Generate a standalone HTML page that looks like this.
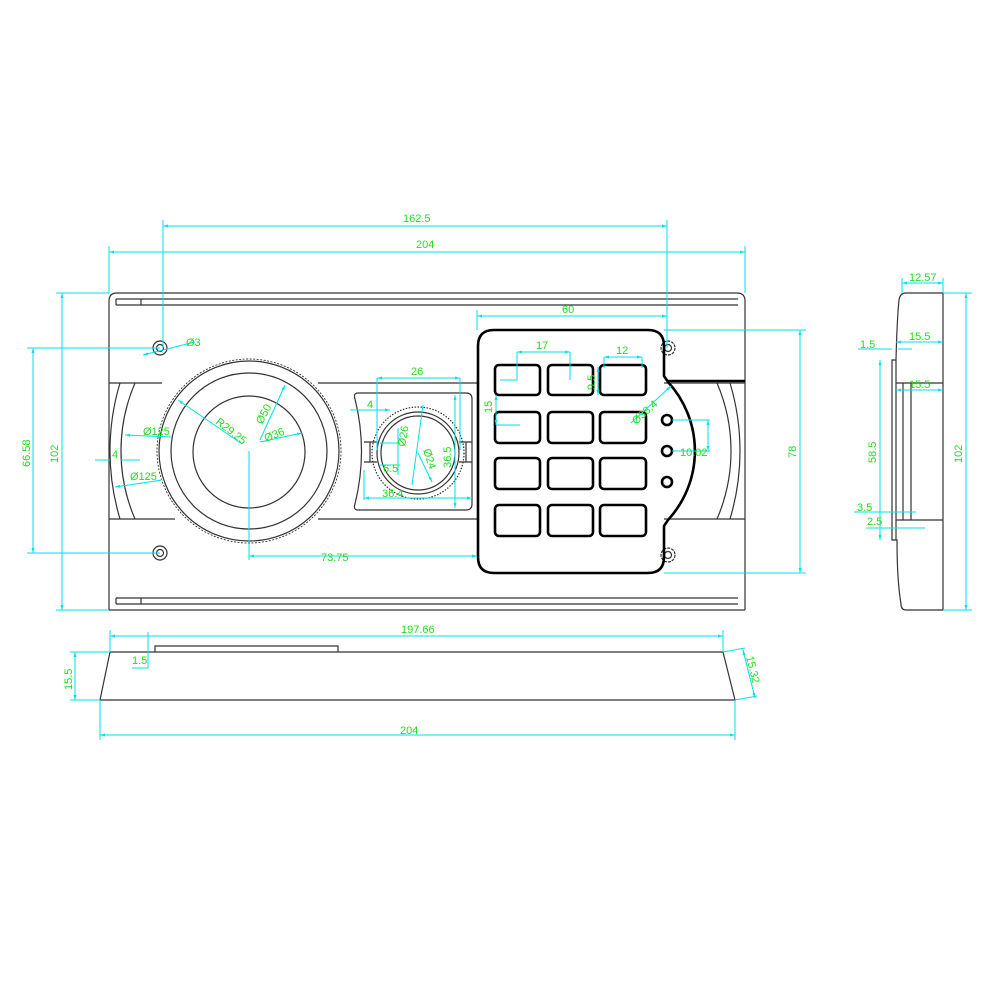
<!DOCTYPE html>
<html><head><meta charset="utf-8"><style>
html,body{margin:0;padding:0;background:#fff;}
svg{display:block}
text{font-family:"Liberation Sans",sans-serif;font-size:11px;fill:#22dd22;}
.o{fill:none;stroke:#333;stroke-width:1.2}
.k{fill:none;stroke:#000;stroke-width:2.6}
.d{fill:none;stroke:#00e0ee;stroke-width:1}
</style></head><body>
<svg width="1000" height="1000" viewBox="0 0 1000 1000" xmlns="http://www.w3.org/2000/svg">
<defs>
<marker id="a" viewBox="0 0 10 10" refX="10" refY="5" markerWidth="7" markerHeight="5" orient="auto-start-reverse"><path d="M0,2L10,5L0,8z" fill="#00e0ee"/></marker>
</defs>
<!-- MAIN BODY -->
<path class="o" d="M109,610 L109,301 Q109,293 117,293 L737,293 Q745,293 745,301 L745,610"/>
<path class="o" d="M116,299 L738,299 M116,305 L738,305 M116,299 L116,305 M141,299 L141,305"/>
<path class="o" d="M116,598 L738,598 M116,604 L738,604 M116,598 L116,604 M141,598 L141,604 M109,610 L745,610"/>
<path class="o" d="M109,383 L162,383 M318,383 L477,383 M109,519 L175,519 M318,519 L477,519"/>
<!-- left arcs -->
<path class="o" d="M120,383 A236,236 0 0 0 120,519"/>
<path class="o" d="M135,383 A172,172 0 0 0 135,519"/>
<!-- right arcs -->
<path class="o" d="M730,383 A236,236 0 0 1 730,519"/>
<path class="o" d="M717,383 A172,172 0 0 1 717,519"/>
<!-- right bands -->
<path class="o" d="M664,383 L745,383 M664,519 L745,519"/>
<path d="M668,381 L745,381" stroke="#000" stroke-width="2.5"/>
<!-- holes -->
<g class="o"><circle cx="160" cy="348" r="7"/><circle cx="160" cy="348" r="3.5"/>
<circle cx="160" cy="553" r="7"/><circle cx="160" cy="553" r="3.5"/>
<circle cx="668" cy="348" r="7" stroke-dasharray="3 1"/><circle cx="668" cy="348" r="3.5"/>
<circle cx="668" cy="555" r="7" stroke-dasharray="3 1"/><circle cx="668" cy="555" r="3.5"/></g>
<!-- dial -->
<g class="o"><circle cx="249" cy="451" r="92" stroke-dasharray="2 1.5" stroke-width="0.9"/><circle cx="249" cy="451" r="90"/><circle cx="249" cy="451" r="78"/><circle cx="249" cy="452" r="56"/></g>
<!-- window -->
<path class="o" d="M358,393 L466,393 Q472,393 472,399 L472,504 Q472,510 466,510 L358,510 Q353,510 355,504 Q368,451 355,399 Q353,393 358,393 Z"/>
<g class="o"><circle cx="418" cy="453" r="46" stroke-dasharray="1.5 1.5"/><circle cx="418" cy="453" r="41"/><circle cx="418" cy="453" r="37"/>
<path d="M364,442 L377,442 M364,462 L377,462 M370,442 L370,462 M459,442 L472,442 M459,462 L472,462 M466,442 L466,462"/></g>
<!-- keypad -->
<path class="k" d="M494,330 L648,330 Q664,330 664,346 L664,376 L668,382 A102,102 0 0 1 668,520 L664,526 L664,557 Q664,573 648,573 L494,573 Q478,573 478,557 L478,346 Q478,330 494,330 Z"/>
<g class="k">
<rect x="495" y="365" width="45" height="30" rx="4"/><rect x="548" y="365" width="45" height="30" rx="4"/><rect x="600" y="365" width="46" height="30" rx="4"/>
<rect x="495" y="412" width="45" height="31" rx="4"/><rect x="548" y="412" width="45" height="31" rx="4"/><rect x="600" y="412" width="46" height="31" rx="4"/>
<rect x="495" y="458" width="45" height="31" rx="4"/><rect x="548" y="458" width="45" height="31" rx="4"/><rect x="600" y="458" width="46" height="31" rx="4"/>
<rect x="495" y="505" width="45" height="31" rx="4"/><rect x="548" y="505" width="45" height="31" rx="4"/><rect x="600" y="505" width="46" height="31" rx="4"/>
<circle cx="667" cy="420" r="5"/><circle cx="667" cy="451" r="5"/><circle cx="667" cy="482" r="5"/></g>
<!-- SIDE VIEW -->
<path class="o" d="M943,293 L943,610 L906,610 Q901,610 901,604 Q897,580 897,540 L892,540 L892,360 L896,360 Q897,320 899,300 Q900,293 906,293 Z"/>
<path class="o" d="M896,383 L943,383 M896,520 L943,520 M903,383 L903,520 M911,383 L911,520 M896,360 L896,540"/>
<!-- BOTTOM VIEW -->
<path class="o" d="M110,652 L723,652 L735,700 L100,700 Z"/>
<path class="o" d="M155,652 L155,646 L338,646 L338,652"/>
<!-- DIMENSIONS -->
<g class="d">
<path d="M163,226 L667,226" marker-start="url(#a)" marker-end="url(#a)"/>
<path d="M163,220 L163,348 M667,220 L667,348"/>
<path d="M109,252 L745,252" marker-start="url(#a)" marker-end="url(#a)"/>
<path d="M109,246 L109,293 M745,246 L745,293"/>
<path d="M62,293 L62,610" marker-start="url(#a)" marker-end="url(#a)"/>
<path d="M56,293 L109,293 M56,610 L109,610"/>
<path d="M33,348 L33,553" marker-start="url(#a)" marker-end="url(#a)"/>
<path d="M27,348 L160,348 M27,553 L160,553"/>
<path d="M800,330 L800,573" marker-start="url(#a)" marker-end="url(#a)"/>
<path d="M664,330 L806,330 M664,573 L806,573"/>
<path d="M477,316 L667,316" marker-start="url(#a)" marker-end="url(#a)"/>
<path d="M477,310 L477,330"/>
<path d="M517,352 L570,352" marker-start="url(#a)" marker-end="url(#a)"/>
<path d="M517,352 L517,380 L500,380 M570,352 L570,380"/>
<path d="M604,357 L642,357" marker-start="url(#a)" marker-end="url(#a)"/>
<path d="M604,357 L604,368 M642,357 L642,368"/>
<path d="M598,367 L598,395" marker-start="url(#a)" marker-end="url(#a)"/>
<path d="M496,395 L496,425" marker-start="url(#a)" marker-end="url(#a)"/>
<path d="M496,425 L520,425"/>
<path d="M631,423 L671,386" marker-end="url(#a)"/>
<path d="M672,420 L710,420 M672,451 L710,451" />
<path d="M708,420 L708,451" marker-start="url(#a)" marker-end="url(#a)"/>
<path d="M377,378 L460,378" marker-start="url(#a)" marker-end="url(#a)"/>
<path d="M377,378 L377,450 M460,378 L460,450"/>
<path d="M350,410 L372,410 M365,410 L390,410" marker-end="url(#a)"/>
<path d="M364,498 L472,498" marker-start="url(#a)" marker-end="url(#a)"/>
<path d="M364,470 L364,500"/>
<path d="M455,395 L455,508" marker-start="url(#a)" marker-end="url(#a)"/>
<path d="M398,428 L398,475 M380,443 L400,443 M380,465 L400,465"/>
<path d="M423,405 L412,485 M418,453 L432,482" marker-end="url(#a)"/>
<path d="M249,451 L249,560"/>
<path d="M249,556 L477,556" marker-start="url(#a)" marker-end="url(#a)"/>
<path d="M242,444 L178,400" marker-end="url(#a)"/>
<path d="M260,440 L285,385" marker-end="url(#a)"/>
<path d="M260,442 L302,433" marker-end="url(#a)"/>
<path d="M172,437 L125,435" marker-end="url(#a)"/>
<path d="M162,480 L115,487" marker-end="url(#a)"/>
<path d="M95,460 L110,460 M121,460 L140,460" />
<path d="M143,355 L195,342" marker-start="url(#a)"/>
<path d="M966,293 L966,610" marker-start="url(#a)" marker-end="url(#a)"/>
<path d="M943,293 L972,293 M943,610 L972,610"/>
<path d="M902,283 L943,283" marker-start="url(#a)" marker-end="url(#a)"/>
<path d="M902,278 L902,293 M943,278 L943,293"/>
<path d="M896,342 L943,342" marker-start="url(#a)" marker-end="url(#a)"/>
<path d="M896,390 L943,390" marker-start="url(#a)" marker-end="url(#a)"/>
<path d="M858,349 L892,349 M898,349 L912,349"/>
<path d="M880,360 L880,540" marker-start="url(#a)" marker-end="url(#a)"/>
<path d="M854,512 L916,512 M866,528 L925,528"/>
<path d="M110,636 L723,636" marker-start="url(#a)" marker-end="url(#a)"/>
<path d="M110,630 L110,652 M723,630 L723,652"/>
<path d="M100,735 L735,735" marker-start="url(#a)" marker-end="url(#a)"/>
<path d="M100,700 L100,740 M735,700 L735,740"/>
<path d="M75,652 L75,700" marker-start="url(#a)" marker-end="url(#a)"/>
<path d="M70,652 L110,652 M70,700 L100,700"/>
<path d="M148,632 L148,668 M132,668 L148,668"/>
<path d="M743,650 L755,698" marker-start="url(#a)" marker-end="url(#a)"/>
<path d="M723,652 L745,648 M735,700 L757,696"/>
</g>
<!-- LABELS -->
<text x="403" y="222">162.5</text>
<text x="416" y="248">204</text>
<text x="562" y="313">60</text>
<text x="536" y="349">17</text>
<text x="616" y="354">12</text>
<text x="411" y="375">26</text>
<text x="367" y="408">4</text>
<text x="186" y="346">Ø3</text>
<text x="321" y="561">73.75</text>
<text x="400" y="734" >204</text>
<text x="401" y="633">197.66</text>
<text x="132" y="664">1.5</text>
<text x="909" y="281">12.57</text>
<text x="909" y="340">15.5</text>
<text x="860" y="348">1.5</text>
<text x="909" y="388">15.5</text>
<text x="857" y="511">3.5</text>
<text x="867" y="525">2.5</text>
<text x="680" y="456">10.02</text>
<text x="383" y="472">6.5</text>
<text x="382" y="497">36.4</text>
<text x="112" y="458">4</text>
<text x="143" y="435">Ø125</text>
<text x="130" y="480">Ø125</text>
<text transform="translate(215,423) rotate(38)">R29.25</text>
<text transform="translate(262,425) rotate(-62)">Ø50</text>
<text transform="translate(266,442) rotate(-22)">Ø36</text>
<text transform="translate(405,447) rotate(-80)">Ø26</text>
<text transform="translate(423,450) rotate(72)">Ø24</text>
<text transform="translate(451,468) rotate(-90)">36.5</text>
<text transform="translate(492,413) rotate(-90)">15</text>
<text transform="translate(595,390) rotate(-90)">9.5</text>
<text transform="translate(636,425) rotate(-42)">Ø38.4</text>
<text transform="translate(30,467) rotate(-90)">66.58</text>
<text transform="translate(58,463) rotate(-90)">102</text>
<text transform="translate(796,458) rotate(-90)">78</text>
<text transform="translate(962,463) rotate(-90)">102</text>
<text transform="translate(876,463) rotate(-90)">58.5</text>
<text transform="translate(72,690) rotate(-90)">15.5</text>
<text transform="translate(746,657) rotate(76)">15.32</text>
</svg>
</body></html>
